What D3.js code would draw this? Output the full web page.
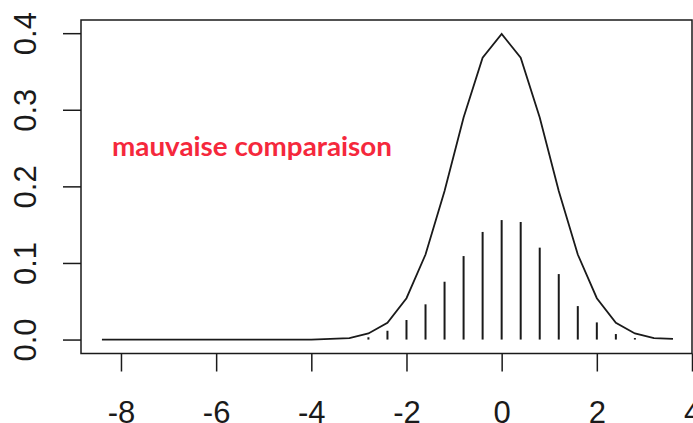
<!DOCTYPE html>
<html>
<head>
<meta charset="utf-8">
<script src="https://cdn.jsdelivr.net/npm/d3@7/dist/d3.min.js"></script>
<style>
  body { margin: 0; background: #fff; }
  svg { display: block; }
</style>
</head>
<body>
<script>
"use strict";

// density curve, sampled every 0.4
var curveX = [-8.4, -8.0, -7.6, -7.2, -6.8, -6.4, -6.0, -5.6, -5.2, -4.8, -4.4, -4.0,
  -3.6, -3.2, -2.8, -2.4, -2.0, -1.6, -1.2, -0.8, -0.4, 0.0, 0.4, 0.8, 1.2, 1.6,
  2.0, 2.4, 2.8, 3.2, 3.6];
var curveY = [0, 0, 0, 0, 0, 0, 0, 0, 0, 0, 0, 0,
  0.001, 0.002, 0.008, 0.022, 0.054, 0.111, 0.194, 0.290, 0.368, 0.399, 0.368, 0.290, 0.194, 0.111,
  0.054, 0.022, 0.008, 0.002, 0.001];

// vertical lines (type "h")
var spikeX = [-2.8, -2.4, -2.0, -1.6, -1.2, -0.8, -0.4, 0.0, 0.4, 0.8, 1.2, 1.6, 2.0, 2.4, 2.8];
var spikeY = [0.003, 0.0115, 0.0255, 0.046, 0.0755, 0.109, 0.1405, 0.156, 0.1535, 0.12,
  0.0855, 0.0437, 0.0224, 0.0072, 0.002];

var xTicks = [-8, -6, -4, -2, 0, 2, 4];
var yTicks = [0.0, 0.1, 0.2, 0.3, 0.4];
var note = "mauvaise comparaison";

(function () {
  var W = 693, H = 423;
  var plot = { left: 81, right: 692, top: 20, bottom: 353.5 };
  var ink = "#1a1a1a";

  var svg = d3.select("body").append("svg")
    .attr("width", W)
    .attr("height", H);

  var x = d3.scaleLinear().domain([-8.84, 4.0]).range([plot.left, plot.right]);
  var y = d3.scaleLinear().domain([-0.0182, 0.4172]).range([plot.bottom, plot.top]);

  // box
  svg.append("rect")
    .attr("x", plot.left)
    .attr("y", plot.top)
    .attr("width", plot.right - plot.left)
    .attr("height", plot.bottom - plot.top)
    .attr("fill", "none")
    .attr("stroke", ink)
    .attr("stroke-width", 1.5);

  // x axis (plain hyphen for negatives, as R does)
  var xAxis = svg.append("g")
    .attr("transform", "translate(0," + plot.bottom + ")")
    .call(d3.axisBottom(x).tickValues(xTicks).tickSize(18).tickPadding(29)
      .tickFormat(function (d) { return String(d); }));
  xAxis.select(".domain").remove();
  xAxis.selectAll("line").attr("stroke", ink).attr("stroke-width", 1.5);
  xAxis.selectAll("text")
    .attr("fill", ink)
    .style("font-family", "'Liberation Sans', Arial, sans-serif")
    .style("font-size", "31px")
    .attr("dy", "0.71em");

  // y axis, labels turned like R's las = 0
  var yAxis = svg.append("g")
    .attr("transform", "translate(" + plot.left + ",0)")
    .call(d3.axisLeft(y).tickValues(yTicks).tickSize(18).tickFormat(d3.format(".1f")));
  yAxis.select(".domain").remove();
  yAxis.selectAll("line").attr("stroke", ink).attr("stroke-width", 1.5);
  yAxis.selectAll("text")
    .attr("fill", ink)
    .attr("x", 0)
    .attr("dy", null)
    .attr("text-anchor", "middle")
    .attr("transform", "translate(" + (36 - plot.left) + ",0) rotate(-90)")
    .style("font-family", "'Liberation Sans', Arial, sans-serif")
    .style("font-size", "31px");

  // spikes
  svg.append("g").selectAll("line")
    .data(spikeX)
    .join("line")
    .attr("x1", function (d) { return x(d); })
    .attr("x2", function (d) { return x(d); })
    .attr("y1", y(0))
    .attr("y2", function (d, i) { return y(spikeY[i]); })
    .attr("stroke", ink)
    .attr("stroke-width", 2);

  // curve
  var line = d3.line()
    .x(function (d) { return x(d); })
    .y(function (d, i) { return y(curveY[i]); });
  svg.append("path")
    .datum(curveX)
    .attr("d", line)
    .attr("fill", "none")
    .attr("stroke", ink)
    .attr("stroke-width", 1.8);

  svg.append("text")
    .attr("x", 112)
    .attr("y", 156)
    .attr("fill", "#f5283c")
    .attr("textLength", 280)
    .attr("lengthAdjust", "spacingAndGlyphs")
    .style("font-family", "Lato, 'Open Sans', sans-serif")
    .style("font-weight", "bold")
    .style("font-size", "26px")
    .text(note);
}());
</script>
</body>
</html>
